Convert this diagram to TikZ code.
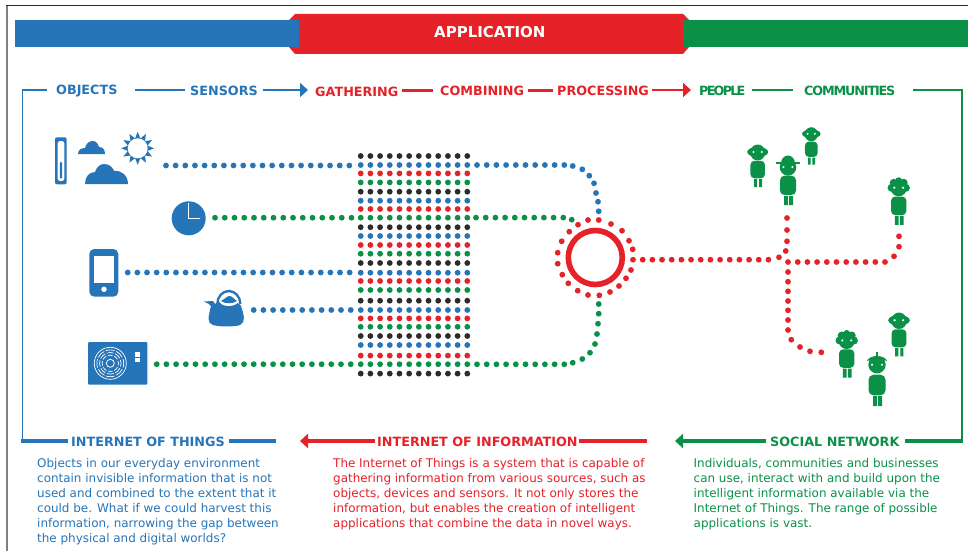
\documentclass[tikz,border=0pt]{standalone}
\usepackage{fontspec}
\setmainfont{DejaVu Sans}
\usetikzlibrary{arrows.meta}
\definecolor{cblue}{HTML}{2675B9}
\definecolor{cred}{HTML}{E52228}
\definecolor{cgreen}{HTML}{0A9147}
\definecolor{cblack}{HTML}{2B2B2B}
\newcommand{\dotrow}[5]{\foreach \k in {0,...,#4}{\fill[#5] ({#1+\k*#3},#2) circle (2.9pt);}}
\tikzset{
  x=1pt,y=-1pt,
  head/.style={font=\bfseries\fontsize{12.75}{15}\selectfont,inner sep=0pt,anchor=base west},
  tighthead/.style={font=\bfseries\fontsize{12.75}{15}\selectfont\addfontfeature{LetterSpace=-#1},inner sep=0pt,anchor=base west},
  bighead/.style={font=\bfseries\fontsize{15}{16}\selectfont,inner sep=0pt,anchor=base west},
  para/.style={font=\fontsize{11.95}{15}\selectfont,inner sep=0pt,anchor=north west,align=left},
  thin line/.style={line width=1.6pt},
  mid line/.style={line width=3pt},
  thick line/.style={line width=3.6pt},
  tip/.style={-{Triangle[length=8pt,width=14pt]}},
  dotb/.style={cblue},dotr/.style={cred},dotg/.style={cgreen},dotk/.style={cblack},
  earperson/.pic={
    \fill[cgreen,rounded corners=4pt] (-7.25,0.3) rectangle (7.25,17.8);
    \fill[cgreen] (-3.7,18.5) rectangle (-0.7,26.5) (1.3,18.5) rectangle (4.3,26.5);
    \fill[cgreen] (0,-8) ellipse [x radius=7.5pt,y radius=8pt];
    \fill[cgreen] (0,-8.5) ellipse [x radius=10.5pt,y radius=5pt];
    \fill[white] (-4.2,-8.5) circle (1.2pt) (4,-8.5) circle (1.2pt);
  },
  curlyperson/.pic={
    \fill[cgreen,rounded corners=4pt] (-7.6,0.3) rectangle (7.6,18.8);
    \fill[cgreen] (-3.8,19.5) rectangle (-0.2,28.5) (1.2,19.5) rectangle (4.8,28.5);
    \fill[cgreen] (0,-8) circle (8pt) (-7.2,-8.5) circle (4pt) (7.2,-8.5) circle (4pt)
      (-5,-13.5) circle (4pt) (0,-15.5) circle (3.5pt) (5,-13.5) circle (4pt);
    \fill[white] (-4.4,-8.6) circle (1.2pt) (4.4,-8.6) circle (1.2pt);
  },
  capperson/.pic={
    \fill[cgreen,rounded corners=4.5pt] (-8,0.2) rectangle (8,19.5);
    \fill[cgreen] (-4,20.5) rectangle (0,29.5) (1,20.5) rectangle (5,29.5);
    \fill[cgreen] (0,-8.2) circle (8.3pt);
    \fill[cgreen] (0,-12) ellipse [x radius=7pt,y radius=8pt];
    \fill[cgreen] (-12,-13.5) rectangle (11.5,-11.5);
    \fill[white] (-4.6,-8.4) circle (1.2pt) (4.4,-8.4) circle (1.2pt);
  },
  beretperson/.pic={
    \fill[cgreen,rounded corners=5pt] (-8.5,0.7) rectangle (8.5,21.3);
    \fill[cgreen] (-4,22) rectangle (0,32) (1,22) rectangle (5,32);
    \fill[cgreen] (0,-9.3) circle (8.7pt);
    \fill[cgreen] (-10,-13) .. controls (-8,-19.5) and (8,-19.5) .. (10,-13) .. controls (5,-15) and (-5,-15) .. (-10,-13) -- cycle;
    \fill[cgreen] (-1.3,-21.7) rectangle (1.3,-17);
    \fill[white] (-5,-9.3) circle (1.2pt) (5,-9.3) circle (1.2pt);
  }
}
\begin{document}
\begin{tikzpicture}
\useasboundingbox (0,0) rectangle (968,551);
\fill[white] (0,0) rectangle (968,551);
% frame
\draw[gray,line width=2pt] (6.5,5.5) -- (6.5,551);
\draw[cblack,line width=1pt] (6,5.5) -- (968,5.5);
% banner
\fill[cred] (289,20) -- (295,14) -- (683,14) -- (689,20) -- (689,47) -- (683,54) -- (295,54) -- (289,47) -- cycle;
\fill[cblue] (15,20) rectangle (299,47);
\fill[cgreen] (683,20) rectangle (968,47);
\node[bighead,text=white] (app) at (434,37.5) {APPLICATION};
% top labels
\node[head,text=cblue] (objects) at (56,94.5) {OBJECTS};
\node[head,text=cblue] (sensors) at (190,95.5) {SENSORS};
\node[head,text=cred] (gathering) at (315,96.5) {GATHERING};
\node[head,text=cred] (combining) at (440,95.5) {COMBINING};
\node[head,text=cred] (processing) at (557,95.5) {PROCESSING};
\node[tighthead=14,text=cgreen] (people) at (699,95.5) {PEOPLE};
\node[tighthead=9,text=cgreen] (communities) at (804,95.5) {COMMUNITIES};
% bottom labels
\node[head,text=cblue] (iot) at (71,446) {INTERNET OF THINGS};
\node[head,text=cred] (ioi) at (377,446) {INTERNET OF INFORMATION};
\node[head,text=cgreen] (social) at (770,446) {SOCIAL NETWORK};
% paragraphs
\node[para,text=cblue] (ptxt1) at (37,458) {Objects in our everyday environment\\contain invisible information that is not\\used and combined to the extent that it\\could be. What if we could harvest this\\information, narrowing the gap between\\the physical and digital worlds?};
\node[para,text=cred] (ptxt2) at (333,458) {The Internet of Things is a system that is capable of\\gathering information from various sources, such as\\objects, devices and sensors. It not only stores the\\information, but enables the creation of intelligent\\applications that combine the data in novel ways.};
\node[para,text=cgreen] (ptxt3) at (693.5,458) {Individuals, communities and businesses\\can use, interact with and build upon the\\intelligent information available via the\\Internet of Things. The range of possible\\applications is vast.};
% flow lines
\coordinate (tl) at (22.5,90);
\coordinate (bl) at (22.5,441);
\coordinate (tr) at (962,90);
\coordinate (br) at (962,441);
\coordinate (bluetip) at (308,90);
\coordinate (redtip) at (691,90);
\coordinate (rbtip) at (300,441);
\coordinate (gbtip) at (675,441);
\coordinate (rbend) at (647,441);
\coordinate (bend) at (276,441);
\draw[cblue,thin line] (47,90) -- (tl) -- (bl);
\draw[cblue,thin line] (135,90) -- (185,90);
\draw[cblue,thin line,tip] (263,90) -- (bluetip);
\draw[cred,mid line] (402,90) -- (433,90);
\draw[cred,mid line] (528,90) -- (553,90);
\draw[cred,thin line,tip] (652,90) -- (redtip);
\draw[cgreen,thin line] (752,90) -- (793,90);
\draw[cgreen,thin line] (913,90) -- (tr) -- (br);
\draw[cblue,thick line] (21,441) -- (68,441);
\draw[cblue,thick line] (229,441) -- (bend);
\draw[cred,thick line,tip] (375,441) -- (rbtip);
\draw[cred,thick line] (579,441) -- (rbend);
\draw[cgreen,thick line,tip] (766,441) -- (gbtip);
\draw[cgreen,thick line] (905,441) -- (963,441);
% dot grid
\foreach \y/\c in {156/dotk,165/dotb,173.4/dotr,182.4/dotg,191.7/dotk,200.7/dotb,209/dotr,217.7/dotg,227.2/dotk,236/dotb,245/dotr,253.7/dotg,263/dotk,272.7/dotb,281/dotr,290/dotg,300.7/dotk,310/dotb,318.4/dotr,326.8/dotg,336/dotk,345/dotb,355.6/dotr,364.2/dotg,373.6/dotk}{
  \dotrow{360.7}{\y}{9.69}{11}{\c}
}
% dotted feeds
\dotrow{166}{165.5}{9.65}{19}{dotb}
\dotrow{215}{217.7}{9.75}{14}{dotg}
\dotrow{127.7}{272.5}{9.65}{23}{dotb}
\dotrow{253.7}{310}{9.7}{10}{dotb}
\dotrow{156.7}{364.2}{9.7}{20}{dotg}
\dotrow{477}{165}{9.7}{9}{dotb}
\dotrow{476}{217.6}{9.7}{9}{dotg}
\dotrow{477}{364.3}{9.7}{9}{dotg}
\foreach \x/\y in {572.7/166,582.3/169.3,589.3/175.7,594/183.3,596/193,598/201.7,598.7/211.3}{\fill[dotb] (\x,\y) circle (2.9pt);}
\fill[dotg] (571.7,219.7) circle (2.9pt);
\foreach \x/\y in {598.7/304,598.7/313.7,598/323.7,597/334,595/344,590/352.7,582.3/359,572.7/362.7}{\fill[dotg] (\x,\y) circle (2.9pt);}
% hub
\draw[cred,line width=5.6pt] (595.3,257.5) circle (27pt);
\foreach \x/\y in {578/224.7,588/220,598.7/220,611/224,622/230.7,629/240.7,632.7/249.3,633/259.7,631/270,626/278.3,619/286,610/292,599.3/295.3,588/295,577.7/290.7,568.3/283.3,562.3/274.7,557.7/263.7,557.7/252.7,561.7/241.3,569.3/231.7}{\fill[dotr] (\x,\y) circle (2.9pt);}
% red network
\dotrow{642.7}{259.7}{9.67}{13}{dotr}
\foreach \x/\y in {779/257.3,785.7/251,787/241.3,787/230,787/218}{\fill[dotr] (\x,\y) circle (2.9pt);}
\dotrow{788}{262}{9.7}{10}{dotr}
\foreach \x/\y in {894/256.3,899/246.7,899/236.3}{\fill[dotr] (\x,\y) circle (2.9pt);}
\foreach \x/\y in {788/272,788/281.7,788/291.3,788/301,788/310.3,788/320,788/330,791.3/339.7,800/347,810/351.3,821.3/352.3}{\fill[dotr] (\x,\y) circle (2.9pt);}
% people
\pic at (757.7,160.5) {earperson};
\pic at (788,175.5) {capperson};
\pic[scale=.88] at (811.3,141.3) {earperson};
\pic at (898.7,196.3) {curlyperson};
\pic at (846.7,349) {curlyperson};
\pic at (877,374) {beretperson};
\pic[scale=1.03] at (899,329) {earperson};
% thermometer
\fill[cblue,rounded corners=2pt] (55,137.3) rectangle (66.7,184.3);
\fill[white,rounded corners=2.5pt] (57.7,141) rectangle (64.3,181);
\fill[cblue,rounded corners=1pt] (59.8,162) rectangle (62.2,178.5);
% clouds
\fill[cblue] (78,154) .. controls (78,150) and (81,148) .. (85,148) .. controls (86,143) and (90,141) .. (93,141) .. controls (97,141) and (98,145) .. (99,147) .. controls (103,147) and (105,150) .. (105,154) -- cycle;
\fill[cblue] (85,184) .. controls (85,177) and (89,172) .. (95,172) .. controls (97,166) and (101,164) .. (104,164) .. controls (110,164) and (113,168) .. (114,171) .. controls (122,170) and (128,176) .. (128,184) -- cycle;
% sun
\foreach \a in {0,30,...,330}{\fill[cblue] ({137.7+16.5*cos(\a+90)},{148.3-16.5*sin(\a+90)}) -- ({137.7+9.5*cos(\a+72)},{148.3-9.5*sin(\a+72)}) -- ({137.7+9.5*cos(\a+108)},{148.3-9.5*sin(\a+108)}) -- cycle;}
\fill[white] (137.7,148.3) circle (10pt);
% clock
\fill[cblue] (188.7,218.3) circle (17pt);
\draw[white,line width=1.2pt] (188.3,203) -- (188.3,218.7) -- (200,218.7);
% phone
\fill[cblue,rounded corners=5pt] (89.3,249) rectangle (118.3,296.7);
\fill[white] (94,256) rectangle (114,283);
\fill[white] (104,289.3) circle (2.7pt);
% kettle
\fill[cblue] (211,306) .. controls (208,318) and (207,323) .. (213,325) .. controls (220,327) and (234,327) .. (240,325) .. controls (246,322) and (244,315) .. (241,306) .. controls (238,300) and (220,300) .. (215,304) -- (213,301) -- (204,301.5) -- (209,304) -- cycle;
\draw[cblue,line width=2.4pt] (217.3,304) arc[start angle=180,end angle=0,x radius=11.5pt,y radius=13pt];
\fill[white] (228.8,300.6) ellipse [x radius=9.6pt,y radius=5.4pt];
\fill[cblue] (221,301) .. controls (225,299) and (227,296) .. (229.5,296) .. controls (232,296) and (234,299) .. (237,301) .. controls (233,304) and (225,304) .. (221,301) -- cycle;
% air conditioner
\fill[cblue,rounded corners=1pt] (88,342) rectangle (147.3,384.7);
\foreach \r in {16,13.4,10.8,8.2}{\draw[white,line width=.7pt] (110.3,363.3) circle (\r pt);}
\foreach \a in {0,45,...,315}{\draw[cblue,line width=1.6pt] ({110.3+4*cos(\a+22)},{363.3+4*sin(\a+22)}) -- ({110.3+15*cos(\a+22)},{363.3+15*sin(\a+22)});}
\draw[white,line width=.8pt,fill=cblue] (110.3,363.3) circle (4pt);
\fill[white] (135,352) rectangle (140.3,362);
\draw[cblue,line width=.7pt] (135,357) -- (140.3,357);
\end{tikzpicture}
\end{document}
